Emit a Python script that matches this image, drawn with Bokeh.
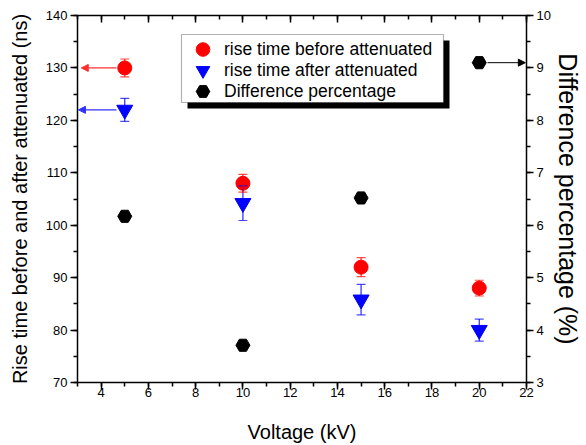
from bokeh.plotting import figure
from bokeh.models import (Range1d, LinearAxis, SingleIntervalTicker, Whisker, ColumnDataSource,
                          Arrow, NormalHead, TeeHead, Legend, LegendItem, BoxAnnotation,
                          CustomJSTickFormatter)
from bokeh.embed import file_html
from bokeh.resources import INLINE

# ---- data ----
voltage = [5, 10, 15, 20]
rise_before = [130.0, 108.0, 92.0, 88.0]
rise_before_err = [1.7, 1.7, 1.8, 1.5]
rise_after = [122.0, 104.2, 85.8, 80.0]
rise_after_err = [2.2, 3.3, 2.9, 2.1]
diff_pct = [6.17, 3.71, 6.52, 9.10]

series_labels = ["rise time before attenuated", "rise time after attenuated", "Difference percentage"]
x_title = "Voltage (kV)"
y_left_title = "Rise time before and after attenuated (ns)"
y_right_title = "Difference percentage (%)"

X_MIN, X_MAX = 3, 22
YL_MIN, YL_MAX = 70, 140
YR_MIN, YR_MAX = 3, 10

FONT = "Liberation Sans"

# ---- layout (pixels) ----
W, H = 586, 445
FL, FT, FR, FB = 77, 15, 526, 382   # frame edges in page pixels

p = figure(width=W, height=H, output_backend="svg", toolbar_location=None,
           x_range=Range1d(X_MIN, X_MAX), y_range=Range1d(YL_MIN, YL_MAX),
           min_border_left=FL, min_border_right=W - FR, min_border_top=FT, min_border_bottom=H - FB,
           x_axis_location=None, y_axis_location=None)
p.extra_y_ranges = {"pct": Range1d(YR_MIN, YR_MAX)}
p.grid.visible = False
p.outline_line_color = None
p.background_fill_color = "white"
p.border_fill_color = "white"


def px_x(px):
    return X_MIN + (px - FL) / (FR - FL) * (X_MAX - X_MIN)


def px_y(py):
    return YL_MAX - (py - FT) / (FB - FT) * (YL_MAX - YL_MIN)


def style_axis(ax, label_size="13px"):
    ax.axis_line_width = 1.5
    ax.major_tick_line_width = 1.5
    ax.minor_tick_line_width = 1.5
    ax.major_tick_out = 7
    ax.major_tick_in = 0
    ax.minor_tick_out = 4
    ax.minor_tick_in = 0
    ax.major_label_text_font = FONT
    ax.major_label_text_font_size = label_size
    ax.major_label_text_color = "black"
    ax.axis_label_text_font = FONT
    ax.axis_label_text_font_size = "20px"
    ax.axis_label_text_font_style = "normal"
    ax.axis_label_text_color = "black"
    ax.axis_line_color = "black"
    ax.major_tick_line_color = "black"
    ax.minor_tick_line_color = "black"


xb = LinearAxis(ticker=SingleIntervalTicker(interval=2, num_minor_ticks=2), axis_label=x_title)
style_axis(xb)
xb.major_label_standoff = -2
xb.axis_label_standoff = 21
p.add_layout(xb, "below")

xt = LinearAxis(ticker=SingleIntervalTicker(interval=2, num_minor_ticks=2),
                formatter=CustomJSTickFormatter(code="return ''"))
style_axis(xt)
xt.major_tick_out = 0
xt.major_tick_in = 7
xt.minor_tick_out = 0
xt.minor_tick_in = 4
xt.major_label_standoff = 0
p.add_layout(xt, "above")

yl = LinearAxis(ticker=SingleIntervalTicker(interval=10, num_minor_ticks=2), axis_label=y_left_title)
style_axis(yl)
yl.major_label_standoff = 3
yl.axis_label_standoff = 12
p.add_layout(yl, "left")

yr = LinearAxis(y_range_name="pct", ticker=SingleIntervalTicker(interval=1, num_minor_ticks=2),
                axis_label=y_right_title)
style_axis(yr)
yr.major_label_standoff = 3
yr.axis_label_standoff = 0
yr.axis_label_text_font_size = "25px"
p.add_layout(yr, "right")

# ---- error bars ----
src_b = ColumnDataSource(dict(x=voltage, y=rise_before,
                              lo=[v - e for v, e in zip(rise_before, rise_before_err)],
                              hi=[v + e for v, e in zip(rise_before, rise_before_err)]))
src_a = ColumnDataSource(dict(x=voltage, y=rise_after,
                              lo=[v - e for v, e in zip(rise_after, rise_after_err)],
                              hi=[v + e for v, e in zip(rise_after, rise_after_err)]))
src_d = ColumnDataSource(dict(x=voltage, y=diff_pct))

for src, col in ((src_a, "#0000ff"), (src_b, "#ff0000")):
    wk = Whisker(base="x", lower="lo", upper="hi", source=src, dimension="height",
                 line_color=col, line_width=1.2, line_alpha=0.85, level="glyph",
                 upper_head=TeeHead(size=9, line_color=col, line_width=1.2, line_alpha=0.7),
                 lower_head=TeeHead(size=9, line_color=col, line_width=1.2, line_alpha=0.7))
    p.add_layout(wk)

r_after = p.scatter("x", "y", source=src_a, marker="inverted_triangle", size=16,
                    fill_color="#0000ff", line_color="#0000ff")
r_before = p.scatter("x", "y", source=src_b, marker="circle", size=14,
                     fill_color="#ff0000", line_color="#ff0000")
r_diff = p.scatter("x", "y", source=src_d, marker="hex", size=14, y_range_name="pct",
                   fill_color="black", line_color="black")

# ---- arrows pointing to the relevant axis ----
p.add_layout(Arrow(x_start=voltage[0] - 0.35, y_start=rise_before[0], x_end=X_MIN + 0.16, y_end=rise_before[0],
                   line_color="#ff3030", line_width=1.3,
                   end=NormalHead(size=7, fill_color="#ff3030", line_color="#ff3030")))
p.add_layout(Arrow(x_start=voltage[0] - 0.35, y_start=rise_after[0], x_end=X_MIN + 0.04, y_end=rise_after[0],
                   line_color="#3030ff", line_width=1.3,
                   end=NormalHead(size=7, fill_color="#3030ff", line_color="#3030ff")))
p.add_layout(Arrow(x_start=voltage[3] + 0.35, y_start=diff_pct[3], x_end=X_MAX - 0.05, y_end=diff_pct[3],
                   y_range_name="pct", line_color="black", line_width=1.0,
                   end=NormalHead(size=7, fill_color="black", line_color="black")))

# ---- legend box with drop shadow ----
LG_L, LG_T, LG_R, LG_B = 181, 34, 443, 102
SH = 6
p.add_layout(BoxAnnotation(left=px_x(LG_L + SH), right=px_x(LG_R + SH), top=px_y(LG_T + SH), bottom=px_y(LG_B + SH),
                           fill_color="black", fill_alpha=1.0, line_color=None))
p.add_layout(BoxAnnotation(left=px_x(LG_L), right=px_x(LG_R), top=px_y(LG_T), bottom=px_y(LG_B),
                           fill_color="white", fill_alpha=1.0, line_color="black", line_width=1.2))

# one legend per row so rows can sit closer than the glyph box height
ROW_Y = [49, 70, 91]
ROW_H = 34
for lab, rend, yc in zip(series_labels, [r_before, r_after, r_diff], ROW_Y):
    lg = Legend(items=[LegendItem(label=lab, renderers=[rend])],
                location=(LG_L - FL, FB - (yc + ROW_H // 2)), orientation="vertical",
                label_text_font=FONT, label_text_font_size="17.5px", label_text_color="black",
                padding=0, margin=0, spacing=0, glyph_width=43, glyph_height=ROW_H,
                label_height=20, label_standoff=0,
                border_line_color=None, background_fill_alpha=0.0)
    p.add_layout(lg, "center")

open("out.html", "w").write(file_html(p, INLINE))
